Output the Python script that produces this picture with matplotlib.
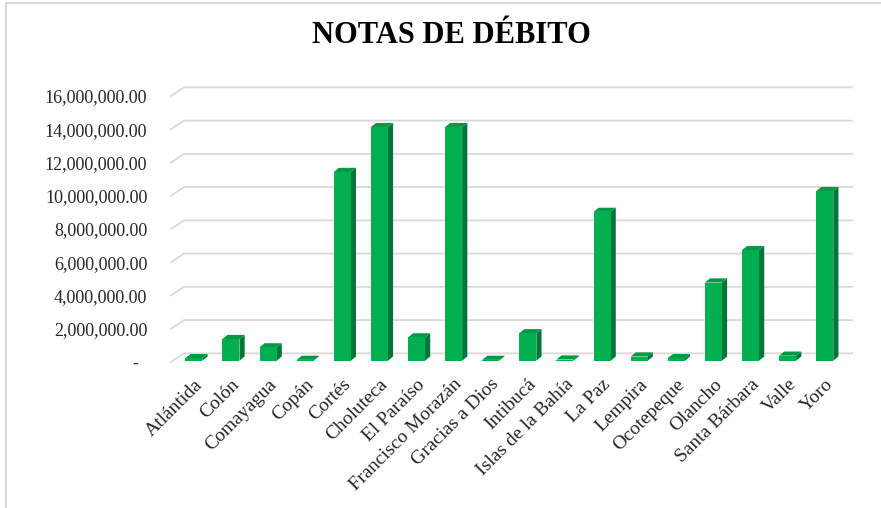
import numpy as np
import matplotlib
matplotlib.use("Agg")
import matplotlib.pyplot as plt
from matplotlib.patches import Polygon
from matplotlib.lines import Line2D

# Departamentos y montos (notas de debito)
departamentos = ["Atlántida", "Colón", "Comayagua", "Copán", "Cortés", "Choluteca",
                 "El Paraíso", "Francisco Morazán", "Gracias a Dios", "Intibucá",
                 "Islas de la Bahía", "La Paz", "Lempira", "Ocotepeque", "Olancho",
                 "Santa Bárbara", "Valle", "Yoro"]
montos = [150000, 1300000, 800000, 50000, 11350000, 14050000,
          1400000, 14050000, 50000, 1650000, 70000, 8950000,
          250000, 150000, 4700000, 6650000, 300000, 10200000]
y_ticks = [0, 2000000, 4000000, 6000000, 8000000, 10000000, 12000000, 14000000, 16000000]

# fake 3D look (offsets in data units)
WALL_DX, WALL_DY = 0.35, 0.52e6
BAR_OFF_X, BAR_OFF_Y = 0.115, 0.08e6
BAR_W = 0.46
BAR_DX, BAR_DY = 0.14, 0.25e6
GREEN, GREEN_SIDE, GREEN_TOP = "#00B050", "#00763A", "#009A45"
GRID = "#D9D9D9"


def main():
    plt.rcParams["font.family"] = ["Liberation Serif", "DejaVu Serif"]
    fig = plt.figure(figsize=(8.81, 5.08), dpi=100)
    ax = fig.add_axes([171 / 881, 146 / 508, 668 / 881, 266 / 508])
    ax.set_xlim(-0.5, len(departamentos) - 0.5)
    ax.set_ylim(0, 16000000)
    for s in ax.spines.values():
        s.set_visible(False)

    # gridlines on the back wall with slanted part on the side wall
    x0, x1 = -0.5, len(departamentos) - 0.5
    for v in y_ticks:
        ax.plot([x0, x0 + WALL_DX, x1 + WALL_DX], [v, v + WALL_DY, v + WALL_DY],
                color=GRID, lw=1.3, clip_on=False, zorder=1)

    x = np.arange(len(departamentos)) + BAR_OFF_X
    ax.bar(x, montos, width=BAR_W, bottom=BAR_OFF_Y, color=GREEN, zorder=3)
    for xi, v in zip(x, montos):
        left, right = xi - BAR_W / 2, xi + BAR_W / 2
        top = BAR_OFF_Y + v
        side = Polygon([(right, BAR_OFF_Y), (right, top), (right + BAR_DX, top + BAR_DY),
                        (right + BAR_DX, BAR_OFF_Y + BAR_DY)],
                       closed=True, facecolor=GREEN_SIDE, edgecolor="none", zorder=2, clip_on=False)
        cap = Polygon([(left, top), (right, top), (right + BAR_DX, top + BAR_DY),
                       (left + BAR_DX, top + BAR_DY)],
                      closed=True, facecolor=GREEN_TOP, edgecolor="none", zorder=2, clip_on=False)
        ax.add_patch(side)
        ax.add_patch(cap)

    ax.set_yticks(y_ticks)
    ax.set_yticklabels(["-  " if v == 0 else f"{v:,.2f}" for v in y_ticks], fontsize=13, color="#262626")
    ax.tick_params(axis="y", length=0, pad=17)

    ax.set_xticks(x)
    ax.set_xticklabels(departamentos, rotation=45, ha="right", rotation_mode="anchor",
                       fontsize=14, color="#262626")
    ax.tick_params(axis="x", length=0, pad=10)

    fig.text(451 / 881, 1 - 43 / 508, "NOTAS DE DÉBITO", ha="center", va="baseline",
             fontsize=22, fontweight="bold", color="black")

    # chart frame (top and left edges only)
    fig.add_artist(Line2D([5.5 / 881, 5.5 / 881], [0, 1 - 3 / 508], color=GRID, lw=1.5))
    fig.add_artist(Line2D([5.5 / 881, 1], [1 - 3 / 508, 1 - 3 / 508], color=GRID, lw=1.5))

    fig.savefig("out.png", dpi=100)


if __name__ == "__main__":
    main()
